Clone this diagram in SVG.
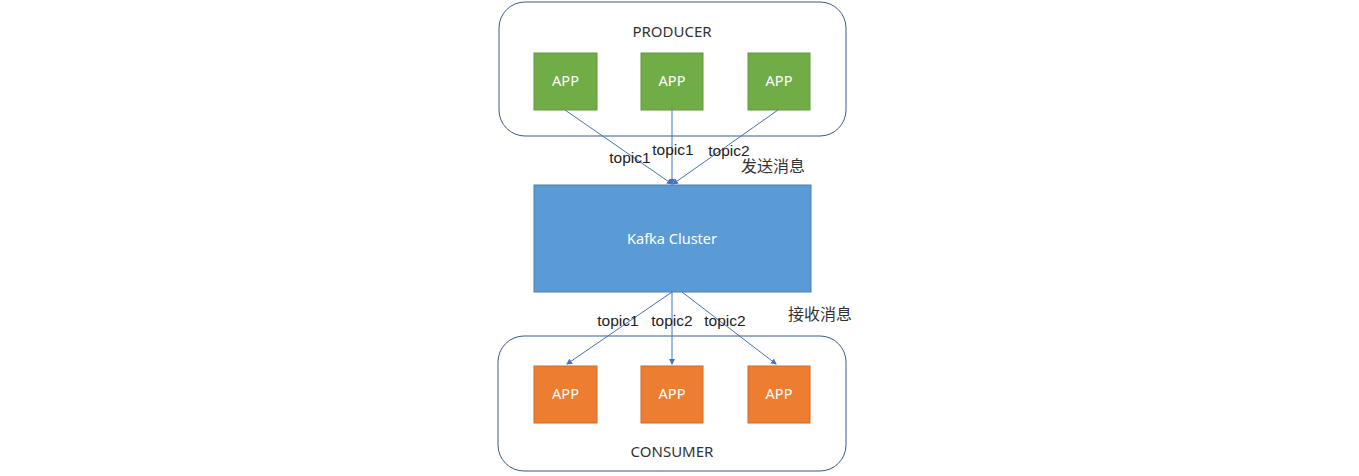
<svg xmlns="http://www.w3.org/2000/svg" width="1359" height="476" viewBox="0 0 1359 476">
<style>
.grp{fill:#fff;stroke:#3B5A8C;stroke-width:1}
.prod{fill:#70AD47;stroke:#5E9A3A;stroke-width:1}
.cons{fill:#ED7D31;stroke:#D26A22;stroke-width:1}
.kafka{fill:#5B9BD5;stroke:#4A7FB0;stroke-width:1}
.w{font-family:"Noto Sans","Open Sans","Noto Sans CJK SC",sans-serif;font-size:14.5px;fill:#fff;text-anchor:middle}
.h{font-family:"Noto Sans","Open Sans",sans-serif;font-size:15px;fill:#333;text-anchor:middle}
.t{font-family:"Liberation Sans",Arial,sans-serif;font-size:15.5px;fill:#222;text-anchor:middle}
.c{font-family:"Noto Sans CJK SC","Noto Sans",sans-serif;font-size:16px;fill:#333;text-anchor:middle}
.ln{stroke:#4472C4;stroke-width:1;fill:none;marker-end:url(#ah)}
</style>
<defs>
<marker id="ah" markerWidth="6" markerHeight="6" refX="5" refY="3" orient="auto" markerUnits="userSpaceOnUse">
<path d="M0,0 L6,3 L0,6 z" fill="#4472C4"/>
</marker>
</defs>
<rect width="1359" height="476" fill="#fff"/>
<g id="producer">
<rect class="grp" x="499" y="2" width="347" height="134" rx="26"/>
<text class="h" x="672" y="37">PRODUCER</text>
</g>
<g id="papp1"><rect class="prod" x="534" y="53" width="63" height="57"/><text class="w" x="565.5" y="86">APP</text></g>
<g id="papp2"><rect class="prod" x="641" y="53" width="62" height="57"/><text class="w" x="672" y="86">APP</text></g>
<g id="papp3"><rect class="prod" x="748" y="53" width="62" height="57"/><text class="w" x="779" y="86">APP</text></g>
<g id="kafka"><rect class="kafka" x="534" y="185" width="277" height="107"/><text class="w" x="672" y="244">Kafka Cluster</text></g>
<g id="consumer">
<rect class="grp" x="498" y="336" width="348" height="135" rx="26"/>
<text class="h" x="672" y="457">CONSUMER</text>
</g>
<g id="capp1"><rect class="cons" x="534" y="366" width="63" height="57"/><text class="w" x="565.5" y="399">APP</text></g>
<g id="capp2"><rect class="cons" x="641" y="366" width="62" height="57"/><text class="w" x="672" y="399">APP</text></g>
<g id="capp3"><rect class="cons" x="748" y="366" width="62" height="57"/><text class="w" x="779" y="399">APP</text></g>
<g id="connectors">
<line class="ln" x1="565" y1="110" x2="672" y2="184"/>
<line class="ln" x1="672" y1="110" x2="672" y2="184"/>
<line class="ln" x1="778" y1="110" x2="673" y2="184"/>
<line class="ln" x1="672" y1="292" x2="567" y2="364"/>
<line class="ln" x1="672" y1="292" x2="672" y2="364"/>
<line class="ln" x1="682" y1="292" x2="776" y2="364"/>
<text class="t" x="630" y="163">topic1</text>
<text class="t" x="673" y="155">topic1</text>
<text class="t" x="729" y="156">topic2</text>
<text class="c" x="773" y="172">发送消息</text>
<text class="t" x="618" y="326">topic1</text>
<text class="t" x="672" y="326">topic2</text>
<text class="t" x="725" y="326">topic2</text>
<text class="c" x="820" y="320">接收消息</text>
</g>
</svg>
